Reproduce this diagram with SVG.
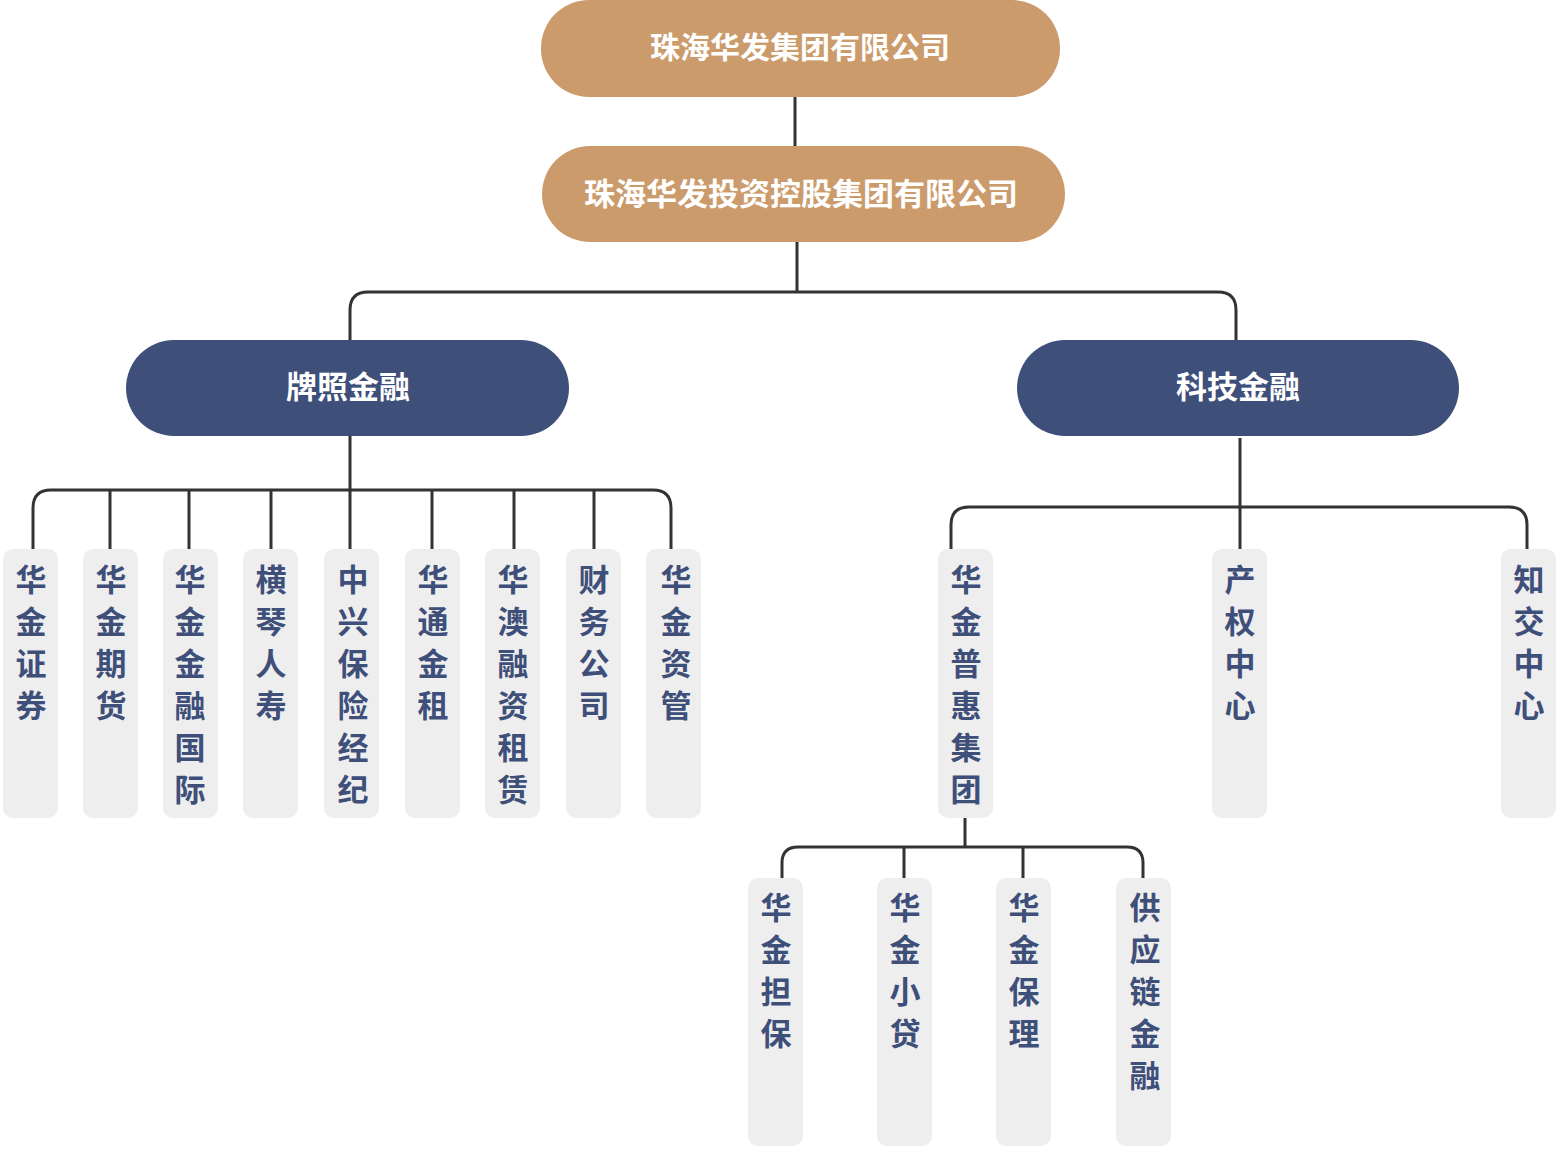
<svg xmlns="http://www.w3.org/2000/svg" width="1560" height="1173" viewBox="0 0 1560 1173">
<style>
.top{fill:#cb9b6b}.mid{fill:#3e4f7a}.leaf{fill:#eeeeee}
.tw{font-family:"Noto Sans CJK SC",sans-serif;font-weight:bold;fill:#fff;text-anchor:middle;dominant-baseline:central}
.tl{font-family:"Noto Sans CJK SC",sans-serif;font-weight:bold;fill:#3e4f7a;font-size:31px;text-anchor:middle}
.c{fill:none;stroke:#333;stroke-width:3}
</style>
<rect width="1560" height="1173" fill="#fff"/>
<g id="connectors">
<path class="c" d="M795 97V146M797 242V292"/>
<path class="c" d="M350 340V310Q350 292 368 292H1218Q1236 292 1236 310V340"/>
<path class="c" d="M350 436V490"/>
<path class="c" d="M33 549V508Q33 490 51 490H653Q671 490 671 508V549"/>
<path class="c" d="M110 490V549M189 490V549M271 490V549M350 490V549M432 490V549M514 490V549M594 490V549"/>
<path class="c" d="M1240 438V549"/>
<path class="c" d="M951 549V525Q951 507 969 507H1509Q1527 507 1527 525V549"/>
<path class="c" d="M965 818V847"/>
<path class="c" d="M782 878V863Q782 847 798 847H1127Q1143 847 1143 863V878"/>
<path class="c" d="M904 847V878M1023 847V878"/>
</g>
<g id="n0"><rect class="top" x="541" y="0" width="519" height="97" rx="48"/><text class="tw" x="800" y="45" font-size="30">珠海华发集团有限公司</text></g>
<g id="n1"><rect class="top" x="542" y="146" width="523" height="96" rx="48"/><text class="tw" x="801" y="191" font-size="31">珠海华发投资控股集团有限公司</text></g>
<g id="n2"><rect class="mid" x="126" y="340" width="443" height="96" rx="48"/><text class="tw" x="348" y="384" font-size="31">牌照金融</text></g>
<g id="n3"><rect class="mid" x="1017" y="340" width="442" height="96" rx="48"/><text class="tw" x="1238" y="384" font-size="31">科技金融</text></g>
<g id="leaves">
<g id="l1"><rect class="leaf" x="3" y="549" width="55" height="269" rx="10"/><text class="tl" x="31" y="591">华<tspan x="31" dy="42">金</tspan><tspan x="31" dy="42">证</tspan><tspan x="31" dy="42">券</tspan></text></g>
<g id="l2"><rect class="leaf" x="83" y="549" width="55" height="269" rx="10"/><text class="tl" x="111" y="591">华<tspan x="111" dy="42">金</tspan><tspan x="111" dy="42">期</tspan><tspan x="111" dy="42">货</tspan></text></g>
<g id="l3"><rect class="leaf" x="163" y="549" width="55" height="269" rx="10"/><text class="tl" x="190" y="591">华<tspan x="190" dy="42">金</tspan><tspan x="190" dy="42">金</tspan><tspan x="190" dy="42">融</tspan><tspan x="190" dy="42">国</tspan><tspan x="190" dy="42">际</tspan></text></g>
<g id="l4"><rect class="leaf" x="243" y="549" width="55" height="269" rx="10"/><text class="tl" x="271" y="591">横<tspan x="271" dy="42">琴</tspan><tspan x="271" dy="42">人</tspan><tspan x="271" dy="42">寿</tspan></text></g>
<g id="l5"><rect class="leaf" x="324" y="549" width="55" height="269" rx="10"/><text class="tl" x="353" y="591">中<tspan x="353" dy="42">兴</tspan><tspan x="353" dy="42">保</tspan><tspan x="353" dy="42">险</tspan><tspan x="353" dy="42">经</tspan><tspan x="353" dy="42">纪</tspan></text></g>
<g id="l6"><rect class="leaf" x="405" y="549" width="55" height="269" rx="10"/><text class="tl" x="433" y="591">华<tspan x="433" dy="42">通</tspan><tspan x="433" dy="42">金</tspan><tspan x="433" dy="42">租</tspan></text></g>
<g id="l7"><rect class="leaf" x="485" y="549" width="55" height="269" rx="10"/><text class="tl" x="513" y="591">华<tspan x="513" dy="42">澳</tspan><tspan x="513" dy="42">融</tspan><tspan x="513" dy="42">资</tspan><tspan x="513" dy="42">租</tspan><tspan x="513" dy="42">赁</tspan></text></g>
<g id="l8"><rect class="leaf" x="566" y="549" width="55" height="269" rx="10"/><text class="tl" x="594" y="591">财<tspan x="594" dy="42">务</tspan><tspan x="594" dy="42">公</tspan><tspan x="594" dy="42">司</tspan></text></g>
<g id="l9"><rect class="leaf" x="646" y="549" width="55" height="269" rx="10"/><text class="tl" x="676" y="591">华<tspan x="676" dy="42">金</tspan><tspan x="676" dy="42">资</tspan><tspan x="676" dy="42">管</tspan></text></g>
<g id="r1"><rect class="leaf" x="938" y="549" width="55" height="269" rx="10"/><text class="tl" x="966" y="591">华<tspan x="966" dy="42">金</tspan><tspan x="966" dy="42">普</tspan><tspan x="966" dy="42">惠</tspan><tspan x="966" dy="42">集</tspan><tspan x="966" dy="42">团</tspan></text></g>
<g id="r2"><rect class="leaf" x="1212" y="549" width="55" height="269" rx="10"/><text class="tl" x="1240" y="591">产<tspan x="1240" dy="42">权</tspan><tspan x="1240" dy="42">中</tspan><tspan x="1240" dy="42">心</tspan></text></g>
<g id="r3"><rect class="leaf" x="1501" y="549" width="55" height="269" rx="10"/><text class="tl" x="1529" y="591">知<tspan x="1529" dy="42">交</tspan><tspan x="1529" dy="42">中</tspan><tspan x="1529" dy="42">心</tspan></text></g>
<g id="s1"><rect class="leaf" x="748" y="878" width="55" height="268" rx="10"/><text class="tl" x="776" y="919">华<tspan x="776" dy="42">金</tspan><tspan x="776" dy="42">担</tspan><tspan x="776" dy="42">保</tspan></text></g>
<g id="s2"><rect class="leaf" x="877" y="878" width="55" height="268" rx="10"/><text class="tl" x="905" y="919">华<tspan x="905" dy="42">金</tspan><tspan x="905" dy="42">小</tspan><tspan x="905" dy="42">贷</tspan></text></g>
<g id="s3"><rect class="leaf" x="996" y="878" width="55" height="268" rx="10"/><text class="tl" x="1024" y="919">华<tspan x="1024" dy="42">金</tspan><tspan x="1024" dy="42">保</tspan><tspan x="1024" dy="42">理</tspan></text></g>
<g id="s4"><rect class="leaf" x="1116" y="878" width="55" height="268" rx="10"/><text class="tl" x="1145" y="919">供<tspan x="1145" dy="42">应</tspan><tspan x="1145" dy="42">链</tspan><tspan x="1145" dy="42">金</tspan><tspan x="1145" dy="42">融</tspan></text></g>
</g>
</svg>
